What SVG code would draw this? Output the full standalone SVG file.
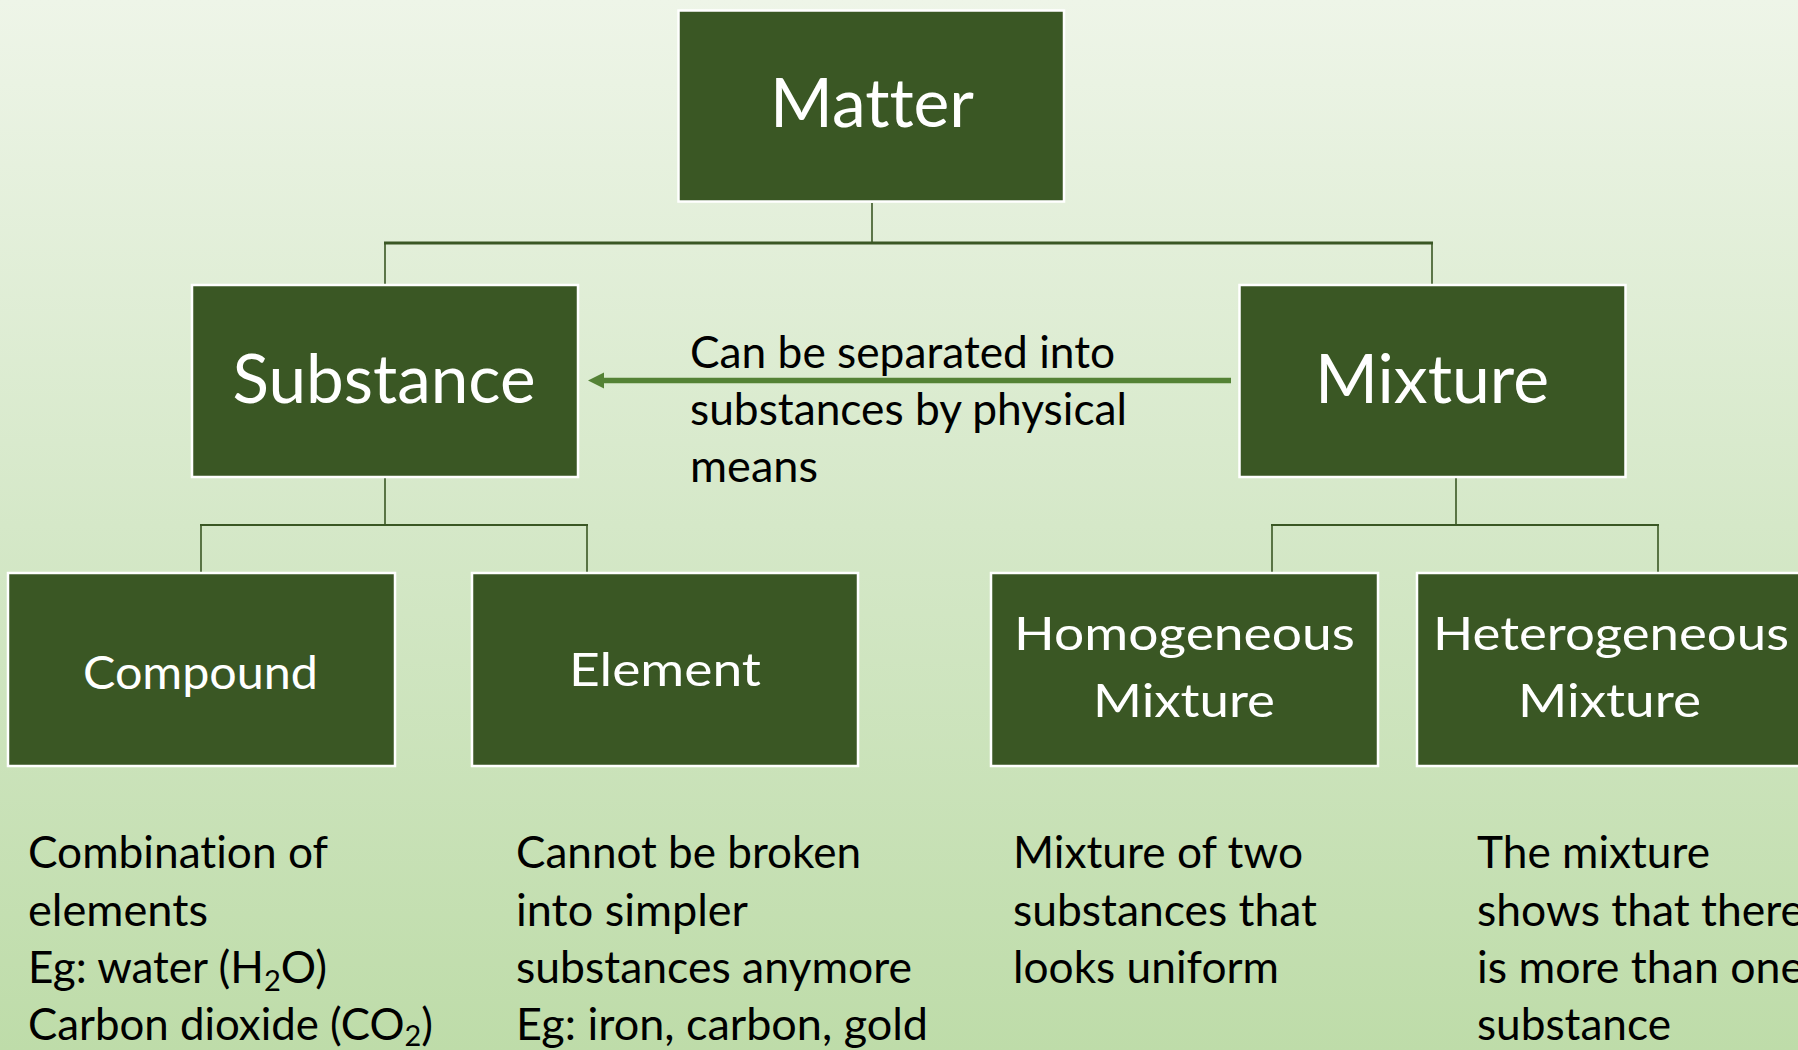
<svg xmlns="http://www.w3.org/2000/svg" width="1798" height="1050" viewBox="0 0 1798 1050">
  <defs>
    <linearGradient id="bg" x1="0" y1="0" x2="0" y2="1">
      <stop offset="0" stop-color="#EEF5E8"/>
      <stop offset="0.5" stop-color="#D5E8C8"/>
      <stop offset="1" stop-color="#BEDCA9"/>
    </linearGradient>
    <marker id="arrowHead" markerUnits="userSpaceOnUse" markerWidth="18" markerHeight="18" refX="4" refY="8" orient="auto">
      <path d="M0,0 L16,8 L0,16 Z" fill="#548235"/>
    </marker>
    <style>
      text { font-variant-ligatures: none; font-feature-settings: "liga" 0, "clig" 0; }
      .box { fill: #3A5724; stroke: #FFFFFF; stroke-width: 2.5; }
      .t1 { font-family: Lato, "Open Sans", "Liberation Sans", sans-serif; font-size: 67px; fill: #FFFFFF; text-anchor: middle; }
      .t2 { font-family: Lato, "Open Sans", "Liberation Sans", sans-serif; font-size: 47px; fill: #FFFFFF; text-anchor: middle; }
      .desc { font-family: Lato, "Open Sans", "Liberation Sans", sans-serif; font-size: 44px; fill: #000000; }
      .conn { fill: none; stroke: #3A5724; stroke-width: 1.6; }
      .connH { fill: none; stroke: #3A5724; stroke-width: 3; }
      .connH2 { fill: none; stroke: #3A5724; stroke-width: 2; }
      .arrow { fill: none; stroke: #548235; stroke-width: 5.5; }
      .sub { font-size: 29px; }
    </style>
  </defs>

  <rect x="0" y="0" width="1798" height="1050" fill="url(#bg)"/>

  <g id="connectors">
    <line class="conn" x1="872" y1="203" x2="872" y2="243"/>
    <line class="connH" x1="384" y1="243" x2="1433" y2="243"/>
    <line class="conn" x1="385" y1="243" x2="385" y2="285"/>
    <line class="conn" x1="1432" y1="243" x2="1432" y2="285"/>

    <line class="conn" x1="385" y1="478" x2="385" y2="525"/>
    <line class="connH2" x1="200" y1="525" x2="588" y2="525"/>
    <line class="conn" x1="201" y1="525" x2="201" y2="573"/>
    <line class="conn" x1="587" y1="525" x2="587" y2="573"/>

    <line class="conn" x1="1456" y1="478" x2="1456" y2="525"/>
    <line class="connH2" x1="1271" y1="525" x2="1659" y2="525"/>
    <line class="conn" x1="1272" y1="525" x2="1272" y2="573"/>
    <line class="conn" x1="1658" y1="525" x2="1658" y2="573"/>

    <line class="arrow" x1="1231" y1="380.5" x2="600" y2="380.5" marker-end="url(#arrowHead)"/>
    <text class="desc" font-size="43" x="690" y="368" textLength="425" lengthAdjust="spacingAndGlyphs">Can be separated into</text>
    <text class="desc" font-size="43" x="690" y="425" textLength="437" lengthAdjust="spacingAndGlyphs">substances by physical</text>
    <text class="desc" font-size="43" x="690" y="482" textLength="128" lengthAdjust="spacingAndGlyphs">means</text>
  </g>

  <g id="matter">
    <rect class="box" x="678.5" y="10.5" width="385.5" height="191"/>
    <text class="t1" x="872" y="127" textLength="204" lengthAdjust="spacingAndGlyphs">Matter</text>
  </g>

  <g id="substance">
    <rect class="box" x="192" y="285" width="386" height="192"/>
    <text class="t1" x="384" y="403" textLength="303" lengthAdjust="spacingAndGlyphs">Substance</text>
  </g>

  <g id="mixture">
    <rect class="box" x="1239.5" y="285" width="386" height="192"/>
    <text class="t1" x="1432" y="403" textLength="234" lengthAdjust="spacingAndGlyphs">Mixture</text>
  </g>

  <g id="compound">
    <rect class="box" x="8" y="573" width="387" height="193"/>
    <text class="t2" x="200.5" y="689" textLength="235" lengthAdjust="spacingAndGlyphs">Compound</text>
    <text class="desc" x="28" y="868" textLength="300" lengthAdjust="spacingAndGlyphs">Combination of</text>
    <text class="desc" x="28" y="926" textLength="180" lengthAdjust="spacingAndGlyphs">elements</text>
    <text class="desc" x="28" y="983" textLength="299" lengthAdjust="spacingAndGlyphs">Eg: water (H<tspan class="sub" dy="8">2</tspan><tspan dy="-8">O)</tspan></text>
    <text class="desc" x="28" y="1040" textLength="405" lengthAdjust="spacingAndGlyphs">Carbon dioxide (CO<tspan class="sub" dy="6">2</tspan><tspan dy="-6">)</tspan></text>
  </g>

  <g id="element">
    <rect class="box" x="472" y="573" width="386" height="193"/>
    <text class="t2" x="665" y="686" textLength="192" lengthAdjust="spacingAndGlyphs">Element</text>
    <text class="desc" x="516" y="868" textLength="345" lengthAdjust="spacingAndGlyphs">Cannot be broken</text>
    <text class="desc" x="516" y="926" textLength="232" lengthAdjust="spacingAndGlyphs">into simpler</text>
    <text class="desc" x="516" y="983" textLength="396" lengthAdjust="spacingAndGlyphs">substances anymore</text>
    <text class="desc" x="516" y="1040" textLength="412" lengthAdjust="spacingAndGlyphs">Eg: iron, carbon, gold</text>
  </g>

  <g id="homogeneous">
    <rect class="box" x="991" y="573" width="387" height="193"/>
    <text class="t2" x="1184.5" y="650" textLength="341" lengthAdjust="spacingAndGlyphs">Homogeneous</text>
    <text class="t2" x="1184" y="716.5" textLength="182" lengthAdjust="spacingAndGlyphs">Mixture</text>
    <text class="desc" x="1013" y="868" textLength="290" lengthAdjust="spacingAndGlyphs">Mixture of two</text>
    <text class="desc" x="1013" y="926" textLength="304" lengthAdjust="spacingAndGlyphs">substances that</text>
    <text class="desc" x="1013" y="983" textLength="266" lengthAdjust="spacingAndGlyphs">looks uniform</text>
  </g>

  <g id="heterogeneous">
    <rect class="box" x="1417" y="573" width="387" height="193"/>
    <text class="t2" x="1611" y="650" textLength="356" lengthAdjust="spacingAndGlyphs">Heterogeneous</text>
    <text class="t2" x="1609.5" y="716.5" textLength="183" lengthAdjust="spacingAndGlyphs">Mixture</text>
    <text class="desc" x="1477" y="868" textLength="233" lengthAdjust="spacingAndGlyphs">The mixture</text>
    <text class="desc" x="1477" y="926" textLength="327" lengthAdjust="spacingAndGlyphs">shows that there</text>
    <text class="desc" x="1477" y="983" textLength="327" lengthAdjust="spacingAndGlyphs">is more than one</text>
    <text class="desc" x="1477" y="1040" textLength="194" lengthAdjust="spacingAndGlyphs">substance</text>
  </g>
</svg>
